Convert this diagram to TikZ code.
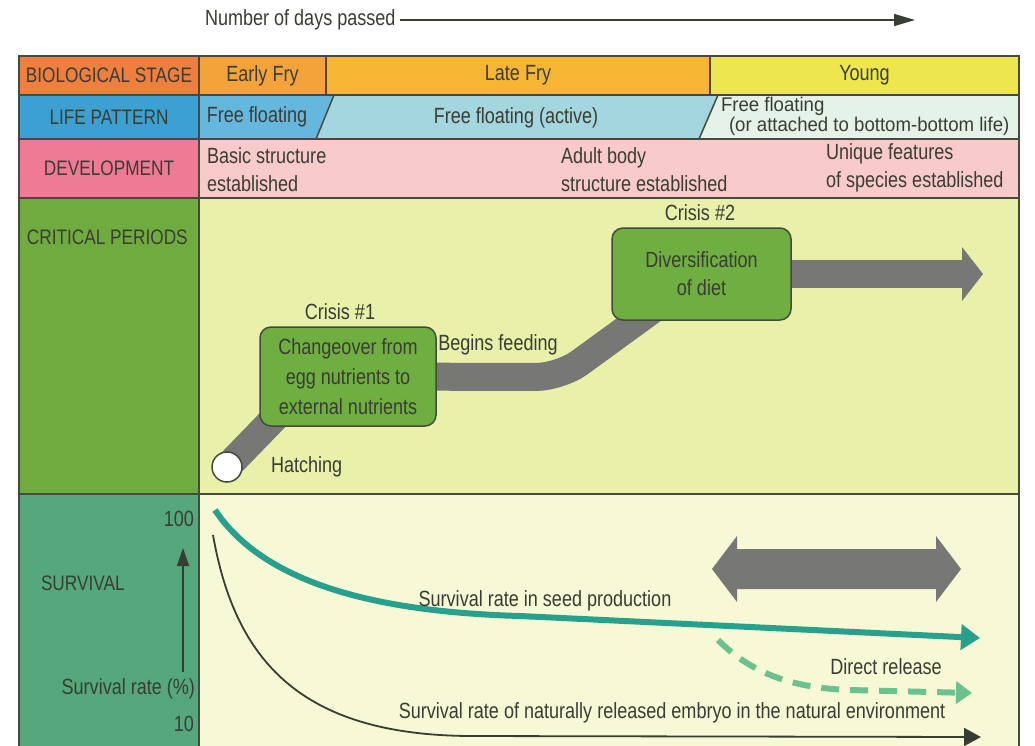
\documentclass[tikz,border=0pt]{standalone}
\usepackage{fontspec}
\setmainfont{Liberation Sans}[FakeStretch=0.82]
\newfontfamily\widefont{Liberation Sans}[FakeStretch=0.94]
\usetikzlibrary{arrows.meta}
\pgfdeclarelayer{bg}
\pgfdeclarelayer{mid}
\pgfsetlayers{bg,mid,main}
\definecolor{border}{HTML}{464A3E}
\definecolor{txt}{HTML}{3A3D33}
\definecolor{bioLab}{HTML}{EF7F3E}
\definecolor{earlyC}{HTML}{F4A33B}
\definecolor{lateC}{HTML}{F6B533}
\definecolor{youngC}{HTML}{EDE64F}
\definecolor{lifeLab}{HTML}{3DA0D2}
\definecolor{ffA}{HTML}{66B7DD}
\definecolor{ffB}{HTML}{A3D6DF}
\definecolor{ffC}{HTML}{E4F2E8}
\definecolor{devLab}{HTML}{EE7A95}
\definecolor{devBody}{HTML}{F8CACA}
\definecolor{critLab}{HTML}{70AB40}
\definecolor{critBody}{HTML}{E9F0A9}
\definecolor{survLab}{HTML}{55A87B}
\definecolor{survBody}{HTML}{F7F8D5}
\definecolor{boxG}{HTML}{6FAE40}
\definecolor{pathG}{HTML}{777875}
\definecolor{tealC}{HTML}{27A08D}
\definecolor{dashG}{HTML}{6BC28E}
\newcommand\mainfs{\fontsize{22}{28}\selectfont}
\newcommand\labelfs{\fontsize{21}{24}\selectfont}
\begin{document}
\begin{tikzpicture}[x=1pt,y=-1pt,
  every node/.style={inner sep=0pt, outer sep=0pt, text=txt, font=\mainfs},
  cell/.style={draw=border, line width=1.5pt, anchor=north west},
  labelcell/.style={cell, font=\labelfs},
  borderline/.style={draw=border, line width=1.5pt},
  crisisbox/.style={draw=border, line width=1.5pt, fill=boxG, rounded corners=11pt, align=center},
  graypath/.style={draw=pathG, line width=28pt},
  axisarrow/.style={draw=txt, line width=1.5pt, -{Triangle[length=18pt,width=12pt]}},
]
\useasboundingbox (0,0) rectangle (1035,745);

\begin{pgfonlayer}{bg}
  \fill[white] (0,0) rectangle (1035,745);
  % row 1
  \node[labelcell, fill=bioLab, minimum width=180, minimum height=39] (bio) at (19,56) {BIOLOGICAL STAGE};
  \node[cell, fill=earlyC, minimum width=127, minimum height=39] (early) at (199,56) {Early Fry};
  \node[cell, fill=lateC, minimum width=384, minimum height=39] (late) at (326,56) {Late Fry};
  \node[cell, fill=youngC, minimum width=309, minimum height=39] (young) at (710,56) {Young};
  % row 2
  \node[labelcell, fill=lifeLab, minimum width=180, minimum height=44] (life) at (19,95) {LIFE PATTERN};
  \fill[ffA] (199,95) -- (334,95) -- (316,139) -- (199,139) -- cycle;
  \fill[ffB] (334,95) -- (718,95) -- (699,139) -- (316,139) -- cycle;
  \fill[ffC] (718,95) -- (1019,95) -- (1019,139) -- (699,139) -- cycle;
  \draw[borderline] (199,95) rectangle (1019,139);
  \draw[borderline] (334,95) -- (316,139);
  \draw[borderline] (718,95) -- (699,139);
  % row 3
  \node[labelcell, fill=devLab, minimum width=180, minimum height=59] (dev) at (19,139) {DEVELOPMENT};
  \node[cell, fill=devBody, minimum width=820, minimum height=59] (devB) at (199,139) {};
  % row 4
  \node[cell, fill=critLab, minimum width=180, minimum height=296] (critL) at (19,198) {};
  \node[cell, fill=critBody, minimum width=820, minimum height=296] (critB) at (199,198) {};
  % row 5
  \node[cell, fill=survLab, minimum width=180, minimum height=270] (survL) at (19,494) {};
  \node[cell, fill=survBody, minimum width=820, minimum height=270] (survB) at (199,494) {};
\end{pgfonlayer}

% header
\node[anchor=west] (days) at (205,20) {Number of days passed};
\coordinate (daysTip) at (915,20);
\draw[txt, line width=1.2pt, shorten <=4pt, -{Triangle[length=21pt,width=12pt]}] (days.east) -- (daysTip);

% life pattern texts
\node (ff1) at (257,117) {Free floating};
\node (ff2) at (516,118) {Free floating (active)};
\node[anchor=west, align=left, font=\widefont\fontsize{19.8}{20}\selectfont] (ff3) at (721,116) {Free floating\\\hspace{8pt}(or attached to bottom-bottom life)};

% development texts
\node[anchor=west, align=left] (dev1) at (207,170) {Basic structure\\established};
\node[anchor=west, align=left] (dev2) at (561,170) {Adult body\\structure established};
\node[anchor=west, align=left] (dev3) at (826,168) {Unique features\\of species established};

% critical periods
\node[anchor=west, font=\labelfs] (critT) at (27,237) {CRITICAL PERIODS};
\node[crisisbox, minimum width=176, minimum height=99, font=\fontsize{22}{30}\selectfont] (c1) at (348,376.5) {Changeover from\\egg nutrients to\\external nutrients};
\node[crisisbox, minimum width=179, minimum height=92] (c2) at (701.5,274) {Diversification\\of diet};
\node (cr1) at (340,312) {Crisis \#1};
\node (cr2) at (700,213) {Crisis \#2};
\node[circle, draw=border, line width=1.5pt, fill=white, minimum size=30] (hatch) at (227,467) {};
\node[anchor=west] (hatchT) at (271,467) {Hatching};
\node (feed) at (498,345) {Begins feeding};
\coordinate (bend) at (560,377);
\coordinate (headbase) at (962,274);

\begin{pgfonlayer}{mid}
  \draw[graypath] (hatch.center) -- ([xshift=32pt,yshift=26pt]c1.south west);
  \draw[graypath, rounded corners=24pt] (c1.center) -- (bend) -- (c2.center);
  \draw[graypath] (c2.center) -- (headbase);
  \fill[pathG] (962,247) -- (983,274) -- (962,301) -- cycle;
\end{pgfonlayer}

% survival
\node[anchor=west, font=\labelfs] (survT) at (41,583) {SURVIVAL};
\node[anchor=east] (hundred) at (194,519) {100};
\node[anchor=east] (ten) at (194,724) {10};
\node[anchor=east] (rate) at (195,689) {Survival rate (\%)};
\coordinate (ax0) at (183,672);
\coordinate (ax1) at (183,548);
\draw[axisarrow] (ax0) -- (ax1);

\fill[pathG] (712,569) -- (737,536) -- (737,549) -- (936,549) -- (936,536) -- (961,569)
  -- (936,602) -- (936,589) -- (737,589) -- (737,602) -- cycle;

\coordinate (tealS) at (215,510);
\coordinate (tealE) at (980,638);
\draw[tealC, line width=6pt, -{Triangle[length=19pt,width=25pt]}] (tealS) .. controls (265,585) and (380,612) .. (520,616) -- (tealE);
\node (seedT) at (545,601) {Survival rate in seed production};

\coordinate (dashS) at (718,640);
\coordinate (dashE) at (972,693);
\draw[dashG, line width=6pt, dash pattern=on 18pt off 11pt, -{Triangle[length=16pt,width=22pt]}] (dashS) .. controls (750,672) and (790,688) .. (850,690) -- (dashE);
\node (directT) at (886,667) {Direct release};

\coordinate (natS) at (213,535);
\coordinate (natE) at (981,737);
\draw[txt, line width=1.8pt, -{Triangle[length=17pt,width=18pt]}] (natS) .. controls (235,660) and (300,735) .. (470,736) -- (natE);
\node (natT) at (672,713) {Survival rate of naturally released embryo in the natural environment};
\end{tikzpicture}
\end{document}
